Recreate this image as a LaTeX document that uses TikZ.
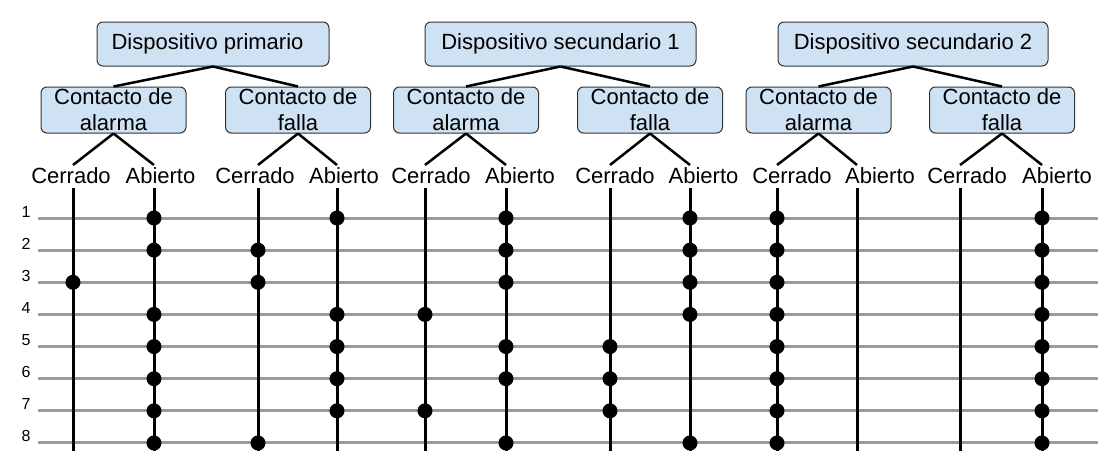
\documentclass[tikz,border=0pt]{standalone}
\usepackage{fontspec}
\setmainfont{Liberation Sans}
\definecolor{boxblue}{HTML}{CFE2F3}
\definecolor{rowgray}{HTML}{9A9A9A}
\definecolor{boxline}{HTML}{333333}
\begin{document}
\begin{tikzpicture}[x=1pt,y=-1pt,
  dev/.style={draw=boxline, line width=1pt, fill=boxblue, rounded corners=6pt, inner sep=0pt, minimum height=44pt, font=\fontsize{22}{26}\selectfont},
  contact/.style={dev, minimum height=46pt, minimum width=145pt, align=center},
  state/.style={font=\fontsize{22}{26}\selectfont, inner sep=0pt, anchor=base},
  link/.style={line width=2.5pt, black},
  wire/.style={line width=3pt, black},
  rowline/.style={line width=3pt, rowgray},
  dot/.style={circle, fill=black, inner sep=0pt, minimum size=15pt},
  rownum/.style={font=\fontsize{16}{18}\selectfont, inner sep=0pt, anchor=base}]
\useasboundingbox (0,0) rectangle (1098,450);

% rows
\foreach \r in {1,...,8}{
  \coordinate (rs\r) at (38,{218+32.14*(\r-1)});
  \coordinate (re\r) at (1098,{218+32.14*(\r-1)});
  \draw[rowline] (rs\r) -- (re\r);
  \node[rownum] (n\r) at (26,{217+32.14*(\r-1)}) {\r};
}

% devices
\node[dev, minimum width=232pt] (P) at (213,44) {Dispositivo primario\hspace*{11pt}};
\node[contact] (PA) at (113.5,110) {Contacto de\\alarma};
\node[contact] (PF) at (298,110) {Contacto de\\falla};
\node[dev, minimum width=271pt] (S1) at (560.5,44) {Dispositivo secundario 1};
\node[contact] (S1A) at (466,110) {Contacto de\\alarma};
\node[contact] (S1F) at (650,110) {Contacto de\\falla};
\node[dev, minimum width=270pt] (S2) at (913,44) {Dispositivo secundario 2};
\node[contact] (S2A) at (818.5,110) {Contacto de\\alarma};
\node[contact] (S2F) at (1002,110) {Contacto de\\falla};

\foreach \a/\b in {P/PA,P/PF,S1/S1A,S1/S1F,S2/S2A,S2/S2F}
  \draw[link] (\a.south) -- (\b.north);

% columns: name/x/label x/label/parent
\foreach \c/\x/\lx/\t/\p in {
  1/73/71/Cerrado/PA, 2/154/160.5/Abierto/PA,
  3/258/255/Cerrado/PF, 4/337/344/Abierto/PF,
  5/425/431/Cerrado/S1A, 6/506/520/Abierto/S1A,
  7/610/615/Cerrado/S1F, 8/690/703.5/Abierto/S1F,
  9/777/792/Cerrado/S2A, 10/857/880/Abierto/S2A,
  11/960/967/Cerrado/S2F, 12/1042/1057/Abierto/S2F}{
  \node[state] (L\c) at (\lx,183) {\t};
  \coordinate (k\c) at (\x,165);
  \coordinate (t\c) at (\x,188);
  \coordinate (b\c) at (\x,452);
  \draw[link] (\p.south) -- (k\c);
  \draw[wire] (t\c) -- (b\c);
}

% dots
\foreach \c/\x/\rows in {
  1/73/{3},
  2/154/{1,2,4,5,6,7,8},
  3/258/{2,3,8},
  4/337/{1,4,5,6,7},
  5/425/{4,7},
  6/506/{1,2,3,5,6,8},
  7/610/{5,6,7},
  8/690/{1,2,3,4,8},
  9/777/{1,2,3,4,5,6,7,8},
  12/1042/{1,2,3,4,5,6,7,8}}{
  \foreach \r in \rows
    \node[dot] (d\c-\r) at (\x,{218+32.14*(\r-1)}) {};
}
\end{tikzpicture}
\end{document}
